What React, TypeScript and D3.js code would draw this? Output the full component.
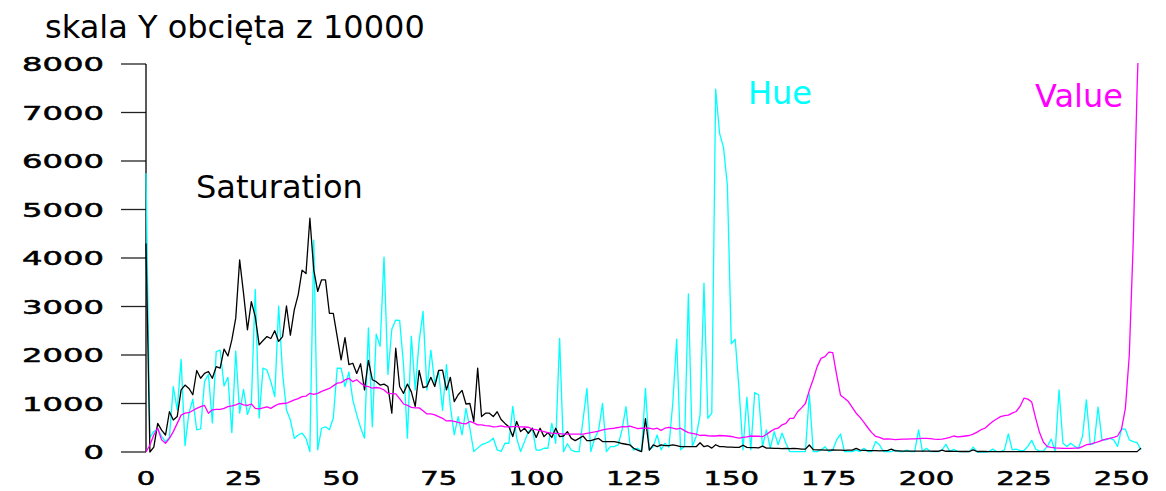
import React from 'react';
import * as d3 from 'd3';

const hue: number[] = [
  5750, 300, 420, 480, 320, 215, 300, 1350, 870, 1910, 130, 800, 1090, 455, 475, 1450,
  1600, 600, 2070, 2100, 1360, 1540, 400, 2080, 800, 1290, 775, 1000, 3355, 700, 1730, 1690,
  1450, 1140, 3010, 1620, 870, 660, 280, 350, 390, 280, 10, 4370, 45, 490, 520, 460,
  700, 1727, 1727, 1350, 1650, 1074, 770, 500, 285, 2560, 520, 2430, 2180, 4020, 1600, 2530,
  2720, 2715, 1800, 285, 2390, 1280, 2280, 2900, 1280, 2100, 1420, 1660, 860, 1800, 940, 355,
  730, 355, 900, 490, 10, 80, 150, 180, 215, 285, 45, 10, 180, 180, 940, 285,
  10, 214, 420, 490, 40, 40, 77, 77, 590, 180, 2344, 8, 170, 40, 8, 8,
  660, 1313, 8, 283, 450, 1004, 8, 110, 110, 145, 455, 935, 180, 40, 77, 8,
  1313, 40, 110, 350, 45, 180, 100, 1006, 2325, 45, 113, 3260, 113, 320, 765, 3480,
  696, 800, 7480, 6570, 6280, 5500, 2230, 2325, 1280, 45, 1130, 45, 1225, 1180, 113, 455,
  80, 420, 150, 390, 180, 8, 8, 8, 8, 8, 1200, 8, 8, 40, 110, 8,
  40, 248, 370, 8, 8, 8, 40, 8, 75, 8, 8, 215, 145, 8, 8, 8,
  40, 8, 8, 40, 8, 8, 455, 8, 75, 8, 8, 8, 40, 160, 8, 55,
  8, 8, 8, 8, 100, 0, 0, 0, 8, 60, 8, 8, 45, 375, 45, 60,
  30, 30, 115, 240, 60, 20, 20, 115, 265, 10, 1280, 180, 115, 180, 115, 80,
  320, 1075, 150, 180, 925, 250, 250, 285, 250, 115, 470, 470, 250, 215, 195, 45,
];

const saturation: number[] = [
  4300, 0, 100, 590, 450, 350, 830, 660, 730, 1280, 1380, 1310, 1180, 1680, 1520, 1620,
  1660, 1520, 1760, 1730, 2120, 1980, 2310, 2760, 3960, 3270, 2520, 3100, 2790, 2210, 2300, 2380,
  2340, 2500, 2280, 2380, 3010, 2410, 2930, 3240, 3750, 3680, 4820, 3750, 3310, 3550, 3550, 2860,
  2860, 2380, 1900, 2360, 1800, 1830, 1620, 1820, 1280, 1890, 1490, 1450, 1380, 1400, 1350, 800,
  2140, 1350, 1210, 1400, 1240, 940, 1680, 1330, 1350, 1540, 1350, 1680, 1690, 1280, 1540, 1040,
  1180, 1270, 990, 1000, 630, 1730, 730, 800, 800, 730, 830, 670, 590, 520, 320, 630,
  420, 490, 386, 490, 300, 490, 317, 400, 300, 490, 317, 330, 420, 280, 235, 280,
  330, 235, 235, 260, 280, 215, 215, 215, 215, 200, 175, 160, 145, 77, 40, 8,
  690, 40, 145, 110, 145, 130, 130, 145, 130, 110, 110, 110, 110, 110, 190, 110,
  130, 80, 150, 110, 110, 100, 100, 95, 95, 140, 95, 90, 90, 85, 120, 80,
  80, 75, 75, 70, 75, 70, 75, 70, 60, 60, 145, 50, 45, 45, 40, 40,
  45, 40, 40, 35, 40, 40, 75, 40, 35, 30, 30, 30, 25, 30, 30, 60,
  25, 25, 20, 20, 20, 20, 20, 20, 20, 18, 15, 15, 40, 15, 15, 12,
  12, 10, 10, 10, 45, 10, 10, 10, 8, 8, 8, 8, 8, 8, 8, 8,
  8, 8, 8, 8, 8, 8, 8, 8, 8, 8, 8, 8, 8, 8, 8, 8,
  8, 8, 8, 8, 8, 8, 8, 8, 8, 8, 8, 8, 8, 8, 8, 80,
];

const value: number[] = [
  0, 145, 350, 490, 250, 180, 280, 420, 590, 760, 800, 810, 855, 900, 935, 960,
  800, 870, 880, 880, 900, 935, 950, 970, 1005, 970, 960, 990, 900, 890, 910, 930,
  900, 950, 990, 1000, 1005, 1040, 1074, 1100, 1143, 1150, 1210, 1190, 1210, 1250, 1280, 1310,
  1363, 1420, 1430, 1486, 1520, 1450, 1490, 1420, 1365, 1350, 1315, 1330, 1315, 1280, 1210, 1205,
  1200, 1100, 990, 960, 920, 910, 910, 850, 785, 785, 765, 730, 695, 640, 645, 630,
  610, 590, 580, 630, 600, 560, 560, 545, 540, 520, 525, 540, 520, 520, 525, 525,
  520, 515, 510, 470, 460, 440, 420, 400, 390, 385, 380, 370, 370, 370, 370, 370,
  370, 385, 400, 414, 430, 455, 470, 480, 490, 505, 525, 520, 535, 510, 480, 490,
  490, 490, 470, 490, 445, 490, 510, 490, 470, 490, 440, 400, 385, 370, 340, 350,
  335, 330, 330, 340, 335, 330, 320, 300, 285, 300, 310, 330, 325, 325, 315, 360,
  420, 470, 490, 560, 590, 695, 695, 830, 910, 1000, 1270, 1500, 1760, 1930, 1965, 2060,
  2050, 1590, 1170, 1110, 1040, 920, 800, 715, 610, 500, 400, 320, 300, 265, 270, 265,
  255, 260, 265, 265, 270, 270, 275, 280, 280, 275, 265, 260, 265, 280, 300, 330,
  310, 320, 330, 340, 370, 410, 460, 490, 560, 630, 680, 730, 750, 760, 800, 835,
  940, 1110, 1090, 1030, 700, 400, 200, 110, 95, 85, 80, 75, 75, 75, 78, 80,
  110, 150, 160, 190, 210, 240, 265, 280, 300, 330, 470, 900, 2000, 4300, 7500, 10000,
];

const yTicks: number[] = [0, 1000, 2000, 3000, 4000, 5000, 6000, 7000, 8000];
const xTicks: number[] = [0, 25, 50, 75, 100, 125, 150, 175, 200, 225, 250];

const title = 'skala Y obcięta z 10000';
const seriesLabels = [
  { text: 'Saturation', color: '#000000', x: 196, y: 198 },
  { text: 'Hue', color: '#00FFFF', x: 748, y: 104 },
  { text: 'Value', color: '#FF00FF', x: 1035, y: 107 },
];

export default function App() {
  const x = d3.scaleLinear().domain([0, 255]).range([146, 1141]);
  const y = d3.scaleLinear().domain([0, 8000]).range([452, 64]);
  const line = d3
    .line<number>()
    .x((_, i) => x(i))
    .y((d) => y(d));

  const tickFont = "'DejaVu Sans', sans-serif";

  return (
    <svg
      width={1166}
      height={491}
      style={{ position: 'absolute', left: 0, top: 0, display: 'block', background: '#ffffff' }}
    >
      <defs>
        <clipPath id="plotClip">
          <rect x={140} y={y(8000) - 1} width={1020} height={400} />
        </clipPath>
      </defs>
      <text x={45} y={38} fontFamily="'DejaVu Sans', sans-serif" fontSize={32} fill="#000">
        {title}
      </text>

      {yTicks.map((t) => (
        <g key={'y' + t}>
          <line x1={121} x2={146} y1={y(t)} y2={y(t)} stroke="#222" strokeWidth={1.3} />
          <text
            x={104}
            y={y(t)}
            textAnchor="end"
            dominantBaseline="central"
            fontFamily={tickFont}
            fontSize={19}
            textLength={String(t).length * 20.5}
            lengthAdjust="spacingAndGlyphs"
            stroke="#000"
            strokeWidth={0.5}
            fill="#000"
          >
            {t}
          </text>
        </g>
      ))}
      <line x1={146} x2={146} y1={y(8000)} y2={y(0)} stroke="#000" strokeWidth={1.3} />

      {xTicks.map((t) => (
        <text
          key={'x' + t}
          x={x(t)}
          y={485}
          textAnchor="middle"
          fontFamily={tickFont}
          fontSize={19}
          textLength={String(t).length * 18.5}
          lengthAdjust="spacingAndGlyphs"
          stroke="#000"
          strokeWidth={0.5}
          fill="#000"
        >
          {t}
        </text>
      ))}

      <g clipPath="url(#plotClip)" fill="none" strokeWidth={1.3} strokeLinejoin="round">
        <path d={line(hue) || ''} stroke="#00FFFF" />
        <path d={line(saturation) || ''} stroke="#000000" />
        <path d={line(value) || ''} stroke="#FF00FF" />
      </g>

      {seriesLabels.map((l) => (
        <text key={l.text} x={l.x} y={l.y} fontFamily="'DejaVu Sans', sans-serif" fontSize={32} fill={l.color}>
          {l.text}
        </text>
      ))}
    </svg>
  );
}
